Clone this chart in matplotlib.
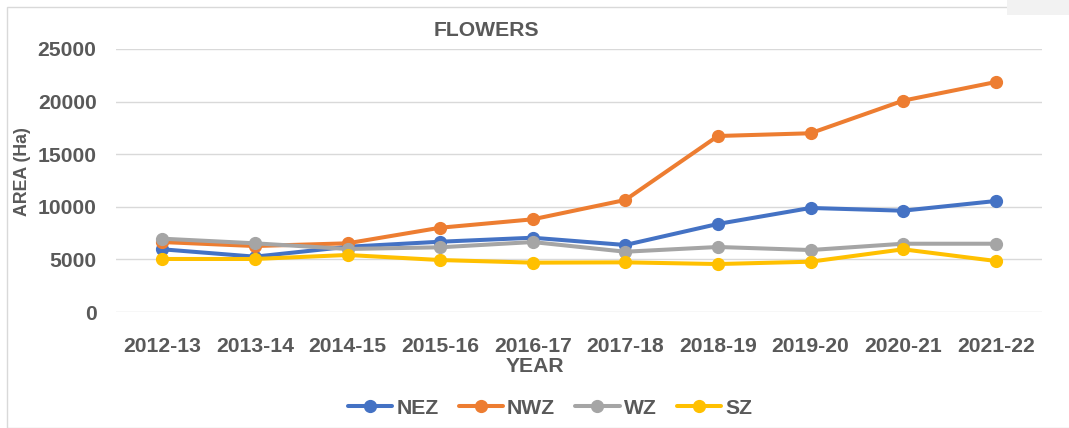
import matplotlib
matplotlib.use("Agg")
import matplotlib.pyplot as plt
from matplotlib.patches import Rectangle

years = ["2012-13", "2013-14", "2014-15", "2015-16", "2016-17",
         "2017-18", "2018-19", "2019-20", "2020-21", "2021-22"]
nez = [5960, 5260, 6200, 6680, 7060, 6370, 8370, 9890, 9630, 10550]
nwz = [6650, 6270, 6530, 8010, 8810, 10650, 16730, 16990, 20090, 21860]
wz = [6970, 6530, 5990, 6150, 6650, 5730, 6180, 5890, 6490, 6490]
sz = [5040, 5040, 5420, 4940, 4690, 4720, 4560, 4780, 5960, 4850]

series = [("NEZ", nez, "#4472C4"), ("NWZ", nwz, "#ED7D31"),
          ("WZ", wz, "#A5A5A5"), ("SZ", sz, "#FFC000")]

plt.rcParams['font.family'] = ['Liberation Sans', 'DejaVu Sans']
txt = "#595959"
fs = 15.2

fig = plt.figure(figsize=(10.69, 4.28), dpi=100)
ax = fig.add_axes([116/1069, 1-312/428, (1042-116)/1069, (312-49)/428])

x = list(range(len(years)))
for name, vals, col in series:
    ax.plot(x, vals, color=col, lw=2.9, marker='o', ms=8.5, label=name,
            solid_capstyle='round')

ax.set_xlim(-0.5, len(years)-0.5)
ax.set_ylim(0, 25000)
ax.set_yticks([0, 5000, 10000, 15000, 20000, 25000])
ax.set_xticks(x)
ax.set_xticklabels(years)
ax.yaxis.grid(True, color="#D9D9D9", lw=1.0)
ax.set_axisbelow(True)
for s in ax.spines.values():
    s.set_visible(False)
ax.tick_params(axis='both', length=0, labelsize=fs, labelcolor=txt)
ax.tick_params(axis='y', pad=14)
ax.tick_params(axis='x', pad=18)
for lab in ax.get_xticklabels() + ax.get_yticklabels():
    lab.set_fontweight('bold')

fig.text(486/1069, 1-30/428, "FLOWERS", ha='center', va='center',
         fontsize=fs, fontweight='bold', color=txt)
fig.text(535/1069, 1-366/428, "YEAR", ha='center', va='center',
         fontsize=fs, fontweight='bold', color=txt)
fig.text(23/1069, 1-172/428, "AREA (Ha)", ha='center', va='center',
         rotation=90, fontsize=12.8, fontweight='bold', color=txt)

fig.legend(loc='center', bbox_to_anchor=(550/1069, 1-408/428), ncol=4,
           frameon=False, handlelength=2.1, columnspacing=0.95,
           handletextpad=0.2, labelcolor=txt,
           prop={'weight': 'bold', 'size': fs})

fig.patches.append(Rectangle((7/1069, 0.0), 1.1, 1-7/428, transform=fig.transFigure,
                             fill=False, edgecolor="#D9D9D9", lw=1.0))
fig.patches.append(Rectangle((1007/1069, 1-15/428), 62/1069, 15/428,
                             transform=fig.transFigure, facecolor="#F2F2F2",
                             edgecolor='none'))

fig.savefig("out.png", dpi=100)
